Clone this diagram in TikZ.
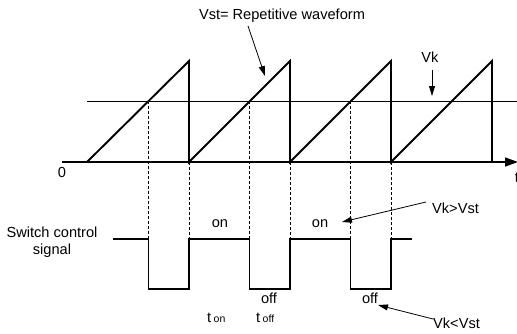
\documentclass[tikz,border=0pt]{standalone}
\usepackage{fontspec}
\setmainfont{Liberation Sans}
\usetikzlibrary{arrows.meta}
\begin{document}
\begin{tikzpicture}[x=1pt,y=-1pt,
  wave/.style={line width=1.9pt, line join=miter},
  axisline/.style={line width=1.4pt},
  thinline/.style={line width=1pt},
  dashline/.style={line width=0.7pt, dash pattern=on 3pt off 2pt},
  lbl/.style={font=\fontsize{14.6}{17}\selectfont, inner sep=0pt},
  sublbl/.style={font=\fontsize{10}{12}\selectfont, inner sep=0pt},
  pointer/.style={-{Triangle[length=10pt,width=6pt]}, line width=0.8pt}]
\useasboundingbox (0,0) rectangle (517,333);

% sawtooth coordinates
\coordinate (r0) at (87,162);
\coordinate (p1) at (189,61);  \coordinate (b1) at (189,162);
\coordinate (p2) at (290,61);  \coordinate (b2) at (290,162);
\coordinate (p3) at (391,61);  \coordinate (b3) at (391,162);
\coordinate (p4) at (492,61);  \coordinate (b4) at (492,162);

% axis
\coordinate (ax0) at (62,162);
\coordinate (ax1) at (518,162);
\draw[axisline, -{Triangle[length=13pt,width=9pt]}] (ax0) -- (ax1);

% Vk level
\coordinate (vk0) at (87,101);
\coordinate (vk1) at (517,101);
\draw[thinline] (vk0) -- (vk1);

% sawtooth
\draw[wave] (r0) -- (p1) -- (b1) -- (p2) -- (b2) -- (p3) -- (b3) -- (p4) -- (b4);

% intersections
\coordinate (i1) at (148.5,101);
\coordinate (i2) at (249.5,101);
\coordinate (i3) at (350.5,101);

% pulse corners
\coordinate (s0) at (113,239);
\coordinate (h1) at (148.5,239); \coordinate (l1) at (148.5,289);
\coordinate (l2) at (189,289);   \coordinate (h2) at (189,239);
\coordinate (h3) at (249.5,239); \coordinate (l3) at (249.5,289);
\coordinate (l4) at (290,289);   \coordinate (h4) at (290,239);
\coordinate (h5) at (350.5,239); \coordinate (l5) at (350.5,289);
\coordinate (l6) at (391,289);   \coordinate (h6) at (391,239);
\coordinate (s1) at (412,239);

% dashed projections
\draw[dashline] (i1) -- (h1);
\draw[dashline] (b1) -- (h2);
\draw[dashline] (i2) -- (h3);
\draw[dashline] (b2) -- (h4);
\draw[dashline] (i3) -- (h5);
\draw[dashline] (b3) -- (h6);

% pulse
\draw[wave] (s0) -- (h1) -- (l1) -- (l2) -- (h2) -- (h3) -- (l3) -- (l4) -- (h4) -- (h5) -- (l5) -- (l6) -- (h6) -- (s1);

% labels
\node[sublbl] (st) at (63,-5) {st};
\node[lbl] (zero) at (62,172) {0};
\node[lbl] (tax) at (517,178) {t};
\node[lbl] (vst) at (282,16) {Vst= Repetitive waveform};
\coordinate (vsttail) at (248,26);
\coordinate (vsttip) at (265,76);
\draw[pointer] (vsttail) -- (vsttip);

\node[lbl] (vk) at (430,57) {Vk};
\coordinate (vktail) at (432,70);
\coordinate (vktip) at (432,96);
\draw[pointer] (vktail) -- (vktip);

\node[lbl, align=center] (scs) at (52,242) {Switch control\\signal};

\node[lbl] (on1) at (220,224) {on};
\node[lbl] (on2) at (320,224) {on};
\node[lbl] (off1) at (269,298) {off};
\node[lbl] (off2) at (370,298) {off};
\node[lbl, anchor=base west] (ton) at (207,322) {t\,\fontsize{10.5}{12}\selectfont on};
\node[lbl, anchor=base west] (toff) at (256,322) {t\,\fontsize{10.5}{12}\selectfont off};

\node[lbl, anchor=west] (gt) at (432,208) {Vk>Vst};
\node[lbl, anchor=west] (lt) at (433,323) {Vk<Vst};
\coordinate (gttail) at (426,202);
\coordinate (gttip) at (342,222);
\draw[pointer] (gttail) -- (gttip);
\coordinate (lttail) at (433,319);
\coordinate (lttip) at (378,305);
\draw[pointer] (lttail) -- (lttip);
\end{tikzpicture}
\end{document}
